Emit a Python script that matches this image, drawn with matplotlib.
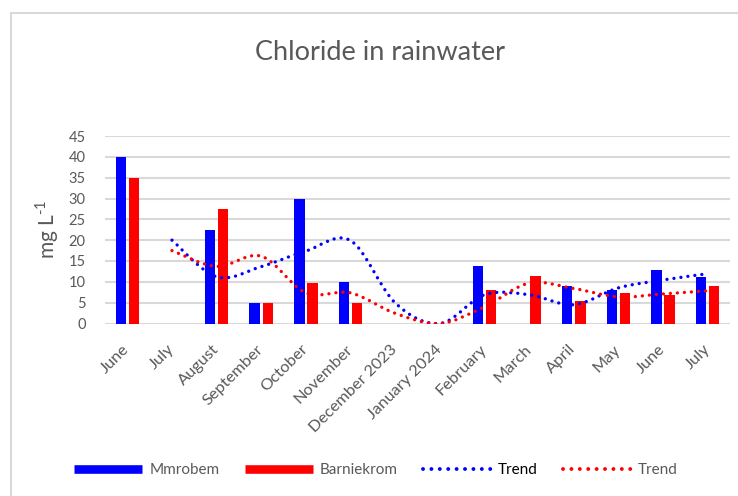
import matplotlib
matplotlib.use('Agg')
import matplotlib.pyplot as plt
import matplotlib.patches as mpatches
from matplotlib.path import Path
from matplotlib.lines import Line2D

# --- dados: cloreto na água da chuva (mg/L) ---
months = ['June', 'July', 'August', 'September', 'October', 'November',
          'December 2023', 'January 2024', 'February', 'March', 'April',
          'May', 'June', 'July']
mmrobem = [40, 0, 22.4, 4.9, 29.9, 9.9, 0, 0, 13.8, 0, 9.0, 8.1, 12.8, 11.1]
barniekrom = [35, 0, 27.4, 4.9, 9.8, 4.9, 0, 0, 8.0, 11.4, 5.4, 7.4, 6.8, 8.9]

# tendência (média móvel de 2 meses), a partir de julho
trend_x = list(range(1, 14))
trend_mmrobem = [20, 11.2, 13.65, 17.4, 19.9, 4.95, 0, 6.9, 6.9, 4.5, 8.55, 10.45, 11.95]
trend_barniekrom = [17.5, 13.7, 16.15, 7.35, 7.35, 2.45, 0, 4.0, 9.7, 8.4, 6.4, 7.1, 7.85]

GRAY = '#595959'
GRID = '#d9d9d9'
BLUE = '#0000ff'
RED = '#ff0000'

plt.rcParams['font.family'] = ['Lato', 'DejaVu Sans']
plt.rcParams['mathtext.fontset'] = 'custom'
plt.rcParams['mathtext.rm'] = 'Lato'


def smooth_path(xs, ys):
    """Curva suavizada (Bezier cúbica) passando pelos pontos, estilo Excel."""
    pts = list(zip(xs, ys))
    n = len(pts)
    verts = [pts[0]]
    codes = [Path.MOVETO]
    for i in range(n - 1):
        p0 = pts[i - 1] if i > 0 else pts[i]
        p1 = pts[i]
        p2 = pts[i + 1]
        p3 = pts[i + 2] if i + 2 < n else pts[i + 1]
        c1 = (p1[0] + (p2[0] - p0[0]) / 6, p1[1] + (p2[1] - p0[1]) / 6)
        c2 = (p2[0] - (p3[0] - p1[0]) / 6, p2[1] - (p3[1] - p1[1]) / 6)
        verts += [c1, c2, p2]
        codes += [Path.CURVE4, Path.CURVE4, Path.CURVE4]
    return Path(verts, codes)


def plot_trend(ax, xs, ys, color):
    patch = mpatches.PathPatch(smooth_path(xs, ys), fill=False, edgecolor=color,
                               linewidth=2.4, zorder=4)
    patch.set_linestyle((0, (0.01, 2.1)))
    patch.set_capstyle('round')
    ax.add_patch(patch)


fig = plt.figure(figsize=(7.38, 4.96), dpi=100)
ax = fig.add_axes([105 / 738, 1 - 323.5 / 496, 625 / 738, (323.5 - 136) / 496])

x = list(range(len(months)))
bw = 0.235
off = 0.146
ax.bar([i - off for i in x], mmrobem, width=bw, color=BLUE, zorder=3)
ax.bar([i + off for i in x], barniekrom, width=bw, color=RED, zorder=3)

plot_trend(ax, trend_x, trend_mmrobem, BLUE)
plot_trend(ax, trend_x, trend_barniekrom, RED)

ax.set_xlim(-0.5, 13.5)
ax.set_ylim(0, 45)
ax.set_yticks(range(0, 46, 5))
ax.yaxis.grid(True, color=GRID, linewidth=1.5, zorder=0)
ax.set_axisbelow(True)
for s in ax.spines.values():
    s.set_visible(False)
ax.tick_params(axis='both', length=0, colors=GRAY, labelsize=10.5)
ax.tick_params(axis='y', pad=14)
ax.set_xticks(x)
ax.set_xticklabels(months, rotation=45, ha='right', va='center',
                   rotation_mode='anchor', fontsize=11.8)
ax.tick_params(axis='x', pad=17)

ax.set_ylabel('mg L$^{\\text{-1}}$', color=GRAY, fontsize=15, labelpad=5)
fig.text(380 / 738, 1 - 52 / 496, 'Chloride in rainwater', ha='center',
         va='center', fontsize=19.5, color=GRAY)

# moldura da área do gráfico
fig.add_artist(mpatches.Rectangle((11 / 738, -0.1), 2, 1 - 13 / 496 + 0.1,
                                  transform=fig.transFigure, fill=False,
                                  edgecolor=GRID, linewidth=1.5))

handles = [
    Line2D([], [], color=BLUE, linewidth=6.2, solid_capstyle='butt'),
    Line2D([], [], color=RED, linewidth=6.2, solid_capstyle='butt'),
    Line2D([], [], color=BLUE, linewidth=2.8, linestyle=(0, (0.01, 2.15)),
           dash_capstyle='round'),
    Line2D([], [], color=RED, linewidth=2.8, linestyle=(0, (0.01, 2.15)),
           dash_capstyle='round'),
]
leg = fig.legend(handles, ['Mmrobem', 'Barniekrom', 'Trend', 'Trend'],
                 loc='center', bbox_to_anchor=(376 / 738, 1 - 470 / 496),
                 ncol=4, frameon=False, fontsize=11, handlelength=4.45,
                 handletextpad=0.46, columnspacing=1.64)
for t, c in zip(leg.get_texts(), [GRAY, GRAY, 'black', GRAY]):
    t.set_color(c)

fig.savefig('out.png', dpi=100)
